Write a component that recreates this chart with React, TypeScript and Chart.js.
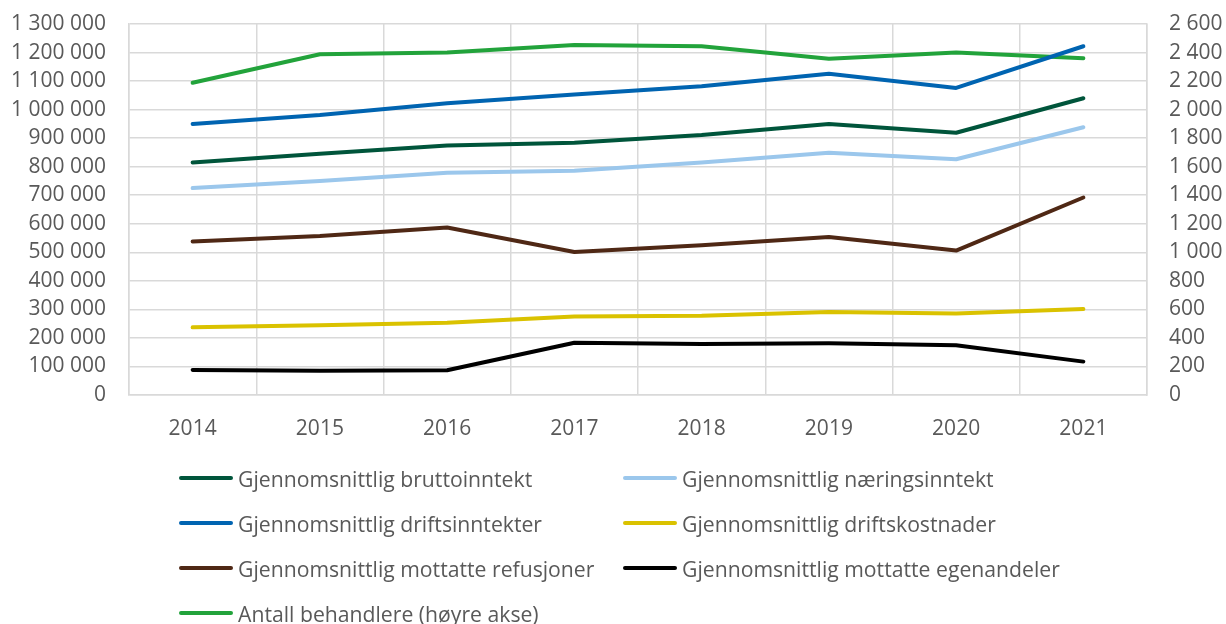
import React, { useEffect, useRef } from "react";
import { Chart, registerables } from "chart.js";

Chart.register(...registerables);

const years = ["2014", "2015", "2016", "2017", "2018", "2019", "2020", "2021"];
const bruttoinntekt = [815000, 845000, 874000, 884000, 911000, 950000, 919000, 1040000];
const naeringsinntekt = [725000, 750000, 779000, 786000, 815000, 849000, 826000, 938000];
const driftsinntekter = [950000, 981000, 1022000, 1053000, 1082000, 1126000, 1076000, 1222000];
const driftskostnader = [237000, 244000, 253000, 275000, 278000, 291000, 286000, 301000];
const refusjoner = [538000, 557000, 587000, 501000, 525000, 554000, 506000, 692000];
const egenandeler = [88000, 85000, 87000, 183000, 179000, 181000, 174000, 117000];
const behandlere = [2188, 2388, 2400, 2452, 2444, 2356, 2400, 2360];

const leftTicks = { min: 0, max: 1300000, step: 100000 };
const rightTicks = { min: 0, max: 2600, step: 200 };

const FONT = "'Open Sans', 'Noto Sans', sans-serif";
const TEXT = "#595959";
const GRID = "#D9D9D9";
const FS = 21;

const series = [
  { label: "Gjennomsnittlig bruttoinntekt", data: bruttoinntekt, color: "#00553B", axis: "y" },
  { label: "Gjennomsnittlig næringsinntekt", data: naeringsinntekt, color: "#9BC7EC", axis: "y" },
  { label: "Gjennomsnittlig driftsinntekter", data: driftsinntekter, color: "#0064B1", axis: "y" },
  { label: "Gjennomsnittlig driftskostnader", data: driftskostnader, color: "#DAC200", axis: "y" },
  { label: "Gjennomsnittlig mottatte refusjoner", data: refusjoner, color: "#4F2815", axis: "y" },
  { label: "Gjennomsnittlig mottatte egenandeler", data: egenandeler, color: "#000000", axis: "y" },
  { label: "Antall behandlere (høyre akse)", data: behandlere, color: "#22A33B", axis: "y1" },
];

const fmt = (v: number) => String(v).replace(/\B(?=(\d{3})+(?!\d))/g, " ");

export default function App() {
  const ref = useRef<HTMLCanvasElement | null>(null);

  useEffect(() => {
    if (!ref.current) return;
    const chart = new Chart(ref.current, {
      type: "line",
      data: {
        labels: years,
        datasets: series.map((s) => ({
          label: s.label,
          data: s.data,
          borderColor: s.color,
          backgroundColor: s.color,
          borderWidth: 4,
          pointRadius: 0,
          tension: 0,
          yAxisID: s.axis,
          borderCapStyle: "round" as const,
          borderJoinStyle: "round" as const,
        })),
      },
      options: {
        animation: false,
        responsive: false,
        maintainAspectRatio: false,
        layout: { padding: { top: 24, left: 0, right: 0, bottom: 0 } },
        plugins: { legend: { display: false }, tooltip: { enabled: false } },
        scales: {
          x: {
            offset: true,
            grid: { offset: true, color: GRID, lineWidth: 1.5, drawTicks: false },
            border: { color: GRID, width: 1.5 },
            ticks: { color: TEXT, font: { family: FONT, size: FS }, padding: 21, maxRotation: 0 },
            afterFit: (s: any) => {
              s.height = 229;
            },
          },
          y: {
            position: "left",
            min: leftTicks.min,
            max: leftTicks.max,
            grid: { color: GRID, lineWidth: 1.5, drawTicks: true, tickLength: 20, tickColor: "rgba(0,0,0,0)" },
            border: { color: GRID, width: 1.5 },
            ticks: {
              stepSize: leftTicks.step,
              autoSkip: false,
              color: TEXT,
              font: { family: FONT, size: FS },
              padding: 3,
              callback: (v: any) => fmt(Number(v)),
            },
            afterFit: (s: any) => {
              s.width = 129;
            },
          },
          y1: {
            position: "right",
            min: rightTicks.min,
            max: rightTicks.max,
            grid: { drawOnChartArea: false, drawTicks: true, tickLength: 20, tickColor: "rgba(0,0,0,0)" },
            border: { color: GRID, width: 1.5 },
            ticks: {
              stepSize: rightTicks.step,
              autoSkip: false,
              color: TEXT,
              font: { family: FONT, size: FS },
              padding: 2,
              callback: (v: any) => fmt(Number(v)),
            },
            afterFit: (s: any) => {
              s.width = 79;
            },
          },
        },
      } as any,
    });
    return () => chart.destroy();
  }, []);

  const legendRows = [
    [series[0], series[1]],
    [series[2], series[3]],
    [series[4], series[5]],
    [series[6]],
  ];
  const colX = [179, 623];
  const rowY = [478, 523, 568, 613];

  return (
    <div style={{ position: "fixed", left: 0, top: 0, width: 1226, height: 624, background: "#fff" }}>
      <canvas ref={ref} width={1226} height={624} style={{ position: "absolute", left: 0, top: 0, width: 1226, height: 624 }} />
      {legendRows.map((row, ri) =>
        row.map((s, ci) => (
          <div
            key={ri + "-" + ci}
            style={{
              position: "absolute",
              left: colX[ci],
              top: rowY[ri] - 15,
              height: 30,
              display: "flex",
              alignItems: "center",
              whiteSpace: "nowrap",
              fontFamily: FONT,
              fontSize: 21.2,
              color: TEXT,
            }}
          >
            <span
              style={{
                display: "inline-block",
                width: 54,
                height: 4,
                borderRadius: 2,
                background: s.color,
                marginRight: 5,
              }}
            />
            <span>{s.label}</span>
          </div>
        ))
      )}
    </div>
  );
}
